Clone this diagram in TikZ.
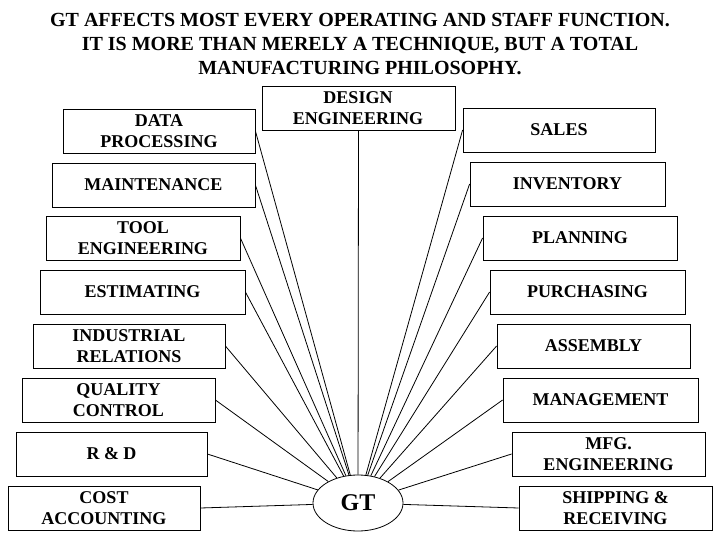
\documentclass[tikz,border=0pt]{standalone}
\usepackage{fontspec}
\setmainfont{Liberation Serif}
\usetikzlibrary{shapes.geometric}
\begin{document}
\begin{tikzpicture}[x=1pt,y=-1pt,
  bx/.style={draw,thick,align=center,font=\bfseries\fontsize{18}{21}\selectfont,inner sep=0pt},
  ln/.style={thick}]
\useasboundingbox (0,0) rectangle (720,540);
\node[font=\bfseries\fontsize{20}{24}\selectfont,align=center] (title) at (360,44) {GT AFFECTS MOST EVERY OPERATING AND STAFF FUNCTION.\\IT IS MORE THAN MERELY A TECHNIQUE, BUT A TOTAL\\MANUFACTURING PHILOSOPHY.};
\newcommand{\bb}[6]{\node[bx,minimum width=#3-#2,minimum height=#5-#4] (#1) at ({(#2+#3)/2},{(#4+#5)/2}) {#6};}
\bb{dp}{63}{255}{109}{153}{DATA\\PROCESSING}
\bb{mt}{52}{255}{163}{207}{MAINTENANCE}
\bb{te}{46}{240}{216}{260}{TOOL\\ENGINEERING}
\bb{es}{40}{245}{270}{314}{ESTIMATING}
\bb{ir}{33}{225}{324}{368}{INDUSTRIAL\\RELATIONS}
\bb{qc}{22}{215}{378}{422}{QUALITY\\CONTROL}
\bb{rd}{16}{207}{432}{476}{R \& D}
\bb{ca}{8}{200}{486}{530}{COST\\ACCOUNTING}
\node[draw,thick,minimum width=193,minimum height=44] (de) at (358.5,108) {};
\node[font=\bfseries\fontsize{18}{21}\selectfont,align=center,anchor=north] (det) at (358,88) {DESIGN\\ENGINEERING};
\bb{sa}{463}{655}{108}{152}{SALES}
\bb{in}{470}{665}{162}{206}{INVENTORY}
\bb{pl}{483}{677}{216}{260}{PLANNING}
\bb{pu}{490}{685}{270}{314}{PURCHASING}
\bb{as}{497}{690}{324}{368}{ASSEMBLY}
\bb{ma}{503}{698}{378}{422}{MANAGEMENT}
\bb{mf}{512}{705}{432}{476}{MFG.\\ENGINEERING}
\bb{sh}{519}{712}{486}{530}{SHIPPING \&\\RECEIVING}
\node[draw,thick,ellipse,minimum width=90,minimum height=56,font=\bfseries\fontsize{24}{26}\selectfont] (gt) at (358,503) {GT};
\foreach \n in {dp,mt,te,es,ir,qc,rd,ca} \draw[ln] (\n.east) -- (gt);
\foreach \n in {sa,in,pl,pu,as,ma,mf,sh} \draw[ln] (\n.west) -- (gt);
\draw[ln] (de.south) -- (gt);
\end{tikzpicture}
\end{document}
